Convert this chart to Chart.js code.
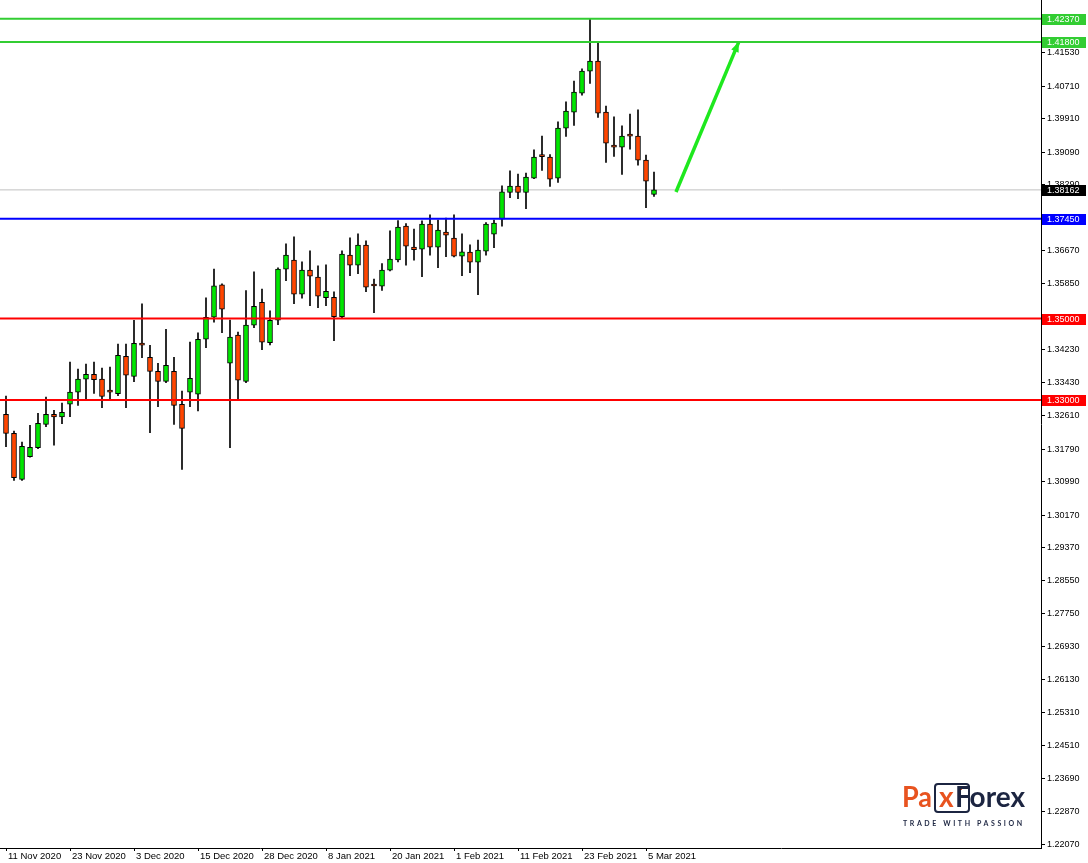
<!DOCTYPE html>
<html>
<head>
<meta charset="utf-8">
<script src="https://cdn.jsdelivr.net/npm/chart.js@4.4.1/dist/chart.umd.min.js"></script>
<style>
  html, body { margin: 0; padding: 0; background: #fff; }
  #wrap { width: 1088px; height: 863px; position: relative; }
</style>
</head>
<body>
<div id="wrap"><canvas id="chart"></canvas></div>
<script>
// daily candles, 11 Nov 2020 - 8 Mar 2021
const dates = [
  "11 Nov 2020", "12 Nov 2020", "13 Nov 2020", "16 Nov 2020", "17 Nov 2020", "18 Nov 2020", "19 Nov 2020", "20 Nov 2020",
  "23 Nov 2020", "24 Nov 2020", "25 Nov 2020", "26 Nov 2020", "27 Nov 2020", "30 Nov 2020", "1 Dec 2020", "2 Dec 2020",
  "3 Dec 2020", "4 Dec 2020", "7 Dec 2020", "8 Dec 2020", "9 Dec 2020", "10 Dec 2020", "11 Dec 2020", "14 Dec 2020",
  "15 Dec 2020", "16 Dec 2020", "17 Dec 2020", "18 Dec 2020", "21 Dec 2020", "22 Dec 2020", "23 Dec 2020", "24 Dec 2020",
  "28 Dec 2020", "29 Dec 2020", "30 Dec 2020", "31 Dec 2020", "4 Jan 2021", "5 Jan 2021", "6 Jan 2021", "7 Jan 2021",
  "8 Jan 2021", "11 Jan 2021", "12 Jan 2021", "13 Jan 2021", "14 Jan 2021", "15 Jan 2021", "18 Jan 2021", "19 Jan 2021",
  "20 Jan 2021", "21 Jan 2021", "22 Jan 2021", "25 Jan 2021", "26 Jan 2021", "27 Jan 2021", "28 Jan 2021", "29 Jan 2021",
  "1 Feb 2021", "2 Feb 2021", "3 Feb 2021", "4 Feb 2021", "5 Feb 2021", "8 Feb 2021", "9 Feb 2021", "10 Feb 2021",
  "11 Feb 2021", "12 Feb 2021", "15 Feb 2021", "16 Feb 2021", "17 Feb 2021", "18 Feb 2021", "19 Feb 2021", "22 Feb 2021",
  "23 Feb 2021", "24 Feb 2021", "25 Feb 2021", "26 Feb 2021", "1 Mar 2021", "2 Mar 2021", "3 Mar 2021", "4 Mar 2021",
  "5 Mar 2021", "8 Mar 2021"
];

const opens = [
  1.32646, 1.32178, 1.31047, 1.31603, 1.31824, 1.32400, 1.32646, 1.32579,
  1.32892, 1.33187, 1.33507, 1.33630, 1.33514, 1.33194, 1.33152, 1.34072,
  1.33580, 1.34352, 1.34048, 1.33703, 1.33457, 1.33703, 1.32892, 1.33187,
  1.33138, 1.34491, 1.35032, 1.35826, 1.33900, 1.34596, 1.33457, 1.34835,
  1.35401, 1.34407, 1.34958, 1.36213, 1.36434, 1.35598, 1.36188, 1.36016,
  1.35514, 1.35524, 1.35047, 1.36557, 1.36311, 1.36803, 1.35805, 1.35794,
  1.36188, 1.36441, 1.37270, 1.36754, 1.36705, 1.37320, 1.36754, 1.37123,
  1.36975, 1.36532, 1.36631, 1.36385, 1.36655, 1.37074, 1.37443, 1.38097,
  1.38254, 1.38097, 1.38451, 1.38985, 1.38968, 1.38451, 1.39681, 1.40075,
  1.40542, 1.41083, 1.41329, 1.40075, 1.39263, 1.39214, 1.39486, 1.39484,
  1.38894, 1.38048
];
const highs = [
  1.33096, 1.32235, 1.31964, 1.32375, 1.32670, 1.33071, 1.32744, 1.32924,
  1.33932, 1.33760, 1.33883, 1.33932, 1.33785, 1.33809, 1.34375, 1.34375,
  1.34958, 1.35359, 1.34343, 1.33900, 1.34737, 1.34048, 1.33219, 1.34424,
  1.34646, 1.35507, 1.36213, 1.35851, 1.34965, 1.34670, 1.35686, 1.36146,
  1.35721, 1.35187, 1.36245, 1.36835, 1.37007, 1.36392, 1.36663, 1.36294,
  1.36318, 1.35654, 1.36663, 1.36983, 1.37081, 1.36909, 1.35967, 1.36350,
  1.37155, 1.37408, 1.37334, 1.37197, 1.37401, 1.37548, 1.37418, 1.37467,
  1.37548, 1.37081, 1.36810, 1.36926, 1.37359, 1.37418, 1.38262, 1.38631,
  1.38550, 1.38574, 1.39147, 1.39484, 1.39032, 1.39836, 1.40328, 1.40837,
  1.41140, 1.42370, 1.41797, 1.40222, 1.39959, 1.39738, 1.40026, 1.40131,
  1.39017, 1.38599
];
const lows = [
  1.31849, 1.31022, 1.31022, 1.31590, 1.31799, 1.32341, 1.31890, 1.32414,
  1.32587, 1.32867, 1.32997, 1.33157, 1.32808, 1.32997, 1.33103, 1.32808,
  1.33448, 1.34038, 1.32193, 1.32833, 1.33423, 1.32400, 1.31293, 1.32833,
  1.32727, 1.34284, 1.34909, 1.34653, 1.31824, 1.32990, 1.33423, 1.34776,
  1.34235, 1.34350, 1.34850, 1.35932, 1.35366, 1.35499, 1.35317, 1.35268,
  1.35317, 1.34456, 1.34997, 1.36055, 1.36104, 1.35662, 1.35145, 1.35691,
  1.36171, 1.36392, 1.36311, 1.36434, 1.36031, 1.36557, 1.36252, 1.36523,
  1.36515, 1.36055, 1.36129, 1.35588, 1.36557, 1.36744, 1.37270, 1.37974,
  1.37949, 1.37703, 1.38440, 1.38638, 1.38245, 1.38343, 1.39475, 1.39745,
  1.40493, 1.40778, 1.39942, 1.38835, 1.38983, 1.38540, 1.39165, 1.38771,
  1.37728, 1.37999
];
const closes = [
  1.32178, 1.31086, 1.31858, 1.31834, 1.32424, 1.32646, 1.32579, 1.32695,
  1.33194, 1.33514, 1.33630, 1.33497, 1.33084, 1.33190, 1.34097, 1.33605,
  1.34392, 1.34348, 1.33703, 1.33457, 1.33851, 1.32867, 1.32301, 1.33531,
  1.34491, 1.35032, 1.35802, 1.35229, 1.34547, 1.33482, 1.34842, 1.35302,
  1.34417, 1.34958, 1.36213, 1.36557, 1.35598, 1.36188, 1.36040, 1.35548,
  1.35671, 1.35047, 1.36582, 1.36311, 1.36803, 1.35770, 1.35800, 1.36188,
  1.36459, 1.37246, 1.36778, 1.36695, 1.37320, 1.36754, 1.37172, 1.37049,
  1.36532, 1.36638, 1.36385, 1.36680, 1.37320, 1.37344, 1.38114, 1.38254,
  1.38097, 1.38476, 1.38968, 1.38981, 1.38427, 1.39681, 1.40099, 1.40567,
  1.41083, 1.41329, 1.40050, 1.39312, 1.39214, 1.39484, 1.39482, 1.38894,
  1.38377, 1.38162
];

// axis labels
const xTickIdx = [0, 8, 16, 24, 32, 40, 48, 56, 64, 72, 80];
const yTicks = [
  1.41530, 1.40710, 1.39910, 1.39090, 1.38290, 1.37450, 1.36670, 1.35850, 1.34230,
  1.33430, 1.32610, 1.31790, 1.30990, 1.30170, 1.29370, 1.28550, 1.27750, 1.26930,
  1.26130, 1.25310, 1.24510, 1.23690, 1.22870, 1.22070
];

// horizontal levels and the projected move
const levelValues = [1.42370, 1.41800, 1.38162, 1.37450, 1.35000, 1.33000];
const levelLineColors = ["#32cd32", "#32cd32", "#c0c0c0", "#0000ff", "#ff0000", "#ff0000"];
const levelBoxColors = ["#32cd32", "#32cd32", "#000000", "#0000ff", "#ff0000", "#ff0000"];
const levelWidths = [2, 2, 1, 2, 2, 2];
const arrowX = [83.75, 91.6];
const arrowY = [1.3811, 1.4180];

const UP = "#00e600";
const DOWN = "#ff4500";
const ARROW = "#1ee81e";
const NAVY = "#1c2541";
const ORANGE = "#e8531f";
const FONT = '"Liberation Sans", Arial, sans-serif';

Chart.defaults.font.family = FONT;

const bodyData = dates.map((d, i) => ({ x: i, y: [opens[i], closes[i]] }));
const wickData = dates.map((d, i) => ({ x: i, y: [lows[i], highs[i]] }));
const bodyColors = dates.map((d, i) => (closes[i] >= opens[i] ? UP : DOWN));

const levelSets = levelValues.map((v, i) => ({
  type: "line",
  data: [{ x: -5, y: v }, { x: 140, y: v }],
  borderColor: levelLineColors[i],
  borderWidth: levelWidths[i],
  pointRadius: 0,
  order: i === 2 ? 5 : 0
}));

// no label padding, the plot runs right to the canvas edge
function noPad(s) {
  s.paddingTop = 0; s.paddingBottom = 0;
  s.paddingLeft = 0; s.paddingRight = 0;
}

// arrow head at the end of the green projection
const arrowHead = {
  id: "arrowHead",
  afterDatasetsDraw(chart) {
    const { ctx, scales: { x, y } } = chart;
    const x0 = x.getPixelForValue(arrowX[0]), y0 = y.getPixelForValue(arrowY[0]);
    const x1 = x.getPixelForValue(arrowX[1]), y1 = y.getPixelForValue(arrowY[1]);
    const a = Math.atan2(y1 - y0, x1 - x0);
    const len = 10, w = 4;
    ctx.save();
    ctx.fillStyle = ARROW;
    ctx.beginPath();
    ctx.moveTo(x1, y1);
    ctx.lineTo(x1 - len * Math.cos(a) + w * Math.sin(a), y1 - len * Math.sin(a) - w * Math.cos(a));
    ctx.lineTo(x1 - len * Math.cos(a) - w * Math.sin(a), y1 - len * Math.sin(a) + w * Math.cos(a));
    ctx.closePath();
    ctx.fill();
    ctx.restore();
  }
};

// coloured price boxes on the right axis + watermark
const levelLabels = {
  id: "levelLabels",
  afterDraw(chart) {
    const { ctx, scales: { y }, chartArea } = chart;
    ctx.save();
    ctx.font = "9px " + FONT;
    ctx.textBaseline = "middle";
    levelValues.forEach((v, i) => {
      const py = Math.round(y.getPixelForValue(v));
      ctx.fillStyle = levelBoxColors[i];
      ctx.fillRect(chartArea.right + 1, py - 5, 44, 11);
      ctx.fillStyle = "#fff";
      ctx.fillText(v.toFixed(5), chartArea.right + 6, py + 0.5);
    });

    // PaxForex logo
    const base = 807;
    ctx.textBaseline = "alphabetic";
    ctx.font = "bold 28px Lato, sans-serif";
    ctx.fillStyle = ORANGE;
    ctx.save();
    ctx.translate(902, base);
    ctx.scale(30 / ctx.measureText("Pa").width, 1);
    ctx.fillText("Pa", 0, 0);
    ctx.restore();
    ctx.strokeStyle = NAVY;
    ctx.lineWidth = 2;
    ctx.beginPath();
    ctx.roundRect(935, 784, 34, 28, 3);
    ctx.stroke();
    ctx.fillStyle = ORANGE;
    ctx.fillText("x", 939, base);
    ctx.fillRect(958, 787, 4, 3);
    ctx.fillStyle = NAVY;
    const wF = ctx.measureText("Forex").width;
    ctx.save();
    ctx.translate(955, base);
    ctx.scale(70 / wF, 1);
    ctx.fillText("Forex", 0, 0);
    ctx.restore();
    ctx.font = "bold 7px Lato, sans-serif";
    ctx.letterSpacing = "2.6px";
    ctx.fillText("TRADE WITH PASSION", 903, 826);
    ctx.restore();
  }
};

new Chart(document.getElementById("chart"), {
  type: "bar",
  data: {
    datasets: [
      ...levelSets,
      {
        type: "line",
        data: arrowX.map((v, i) => ({ x: v, y: arrowY[i] })),
        borderColor: ARROW,
        borderWidth: 3.5,
        pointRadius: 0,
        order: 0
      },
      {
        data: bodyData,
        backgroundColor: bodyColors,
        borderColor: "#000",
        borderWidth: 1,
        borderSkipped: false,
        barThickness: 5,
        minBarLength: 2,
        grouped: false,
        order: 2
      },
      {
        data: wickData,
        backgroundColor: "#000",
        borderWidth: 0,
        barThickness: 1,
        grouped: false,
        order: 3
      }
    ]
  },
  options: {
    responsive: true,
    maintainAspectRatio: false,
    animation: false,
    layout: { padding: 0 },
    plugins: { legend: { display: false }, tooltip: { enabled: false } },
    scales: {
      x: {
        type: "linear",
        min: -0.75,
        max: 129.375,
        offset: false,
        grid: { drawOnChartArea: false, tickLength: 3, color: "#000", offset: false },
        border: { color: "#000", width: 1 },
        afterBuildTicks: s => { s.ticks = xTickIdx.map(v => ({ value: v })); },
        afterFit: s => { s.height = 15; noPad(s); },
        ticks: {
          autoSkip: false, maxRotation: 0, align: "start", labelOffset: 2, padding: 0,
          color: "#000", font: { size: 9.5 },
          callback: v => dates[v] || ""
        }
      },
      y: {
        type: "linear",
        position: "right",
        min: 1.21985,
        max: 1.42830,
        grid: { drawOnChartArea: false, tickLength: 4, color: "#000" },
        border: { color: "#000", width: 1 },
        afterBuildTicks: s => { s.ticks = yTicks.map(v => ({ value: v })); },
        afterFit: s => { s.width = 47; noPad(s); },
        ticks: {
          autoSkip: false, padding: 2, color: "#000", font: { size: 9 },
          callback: v => v.toFixed(5)
        }
      }
    }
  },
  plugins: [arrowHead, levelLabels]
});
</script>
</body>
</html>
